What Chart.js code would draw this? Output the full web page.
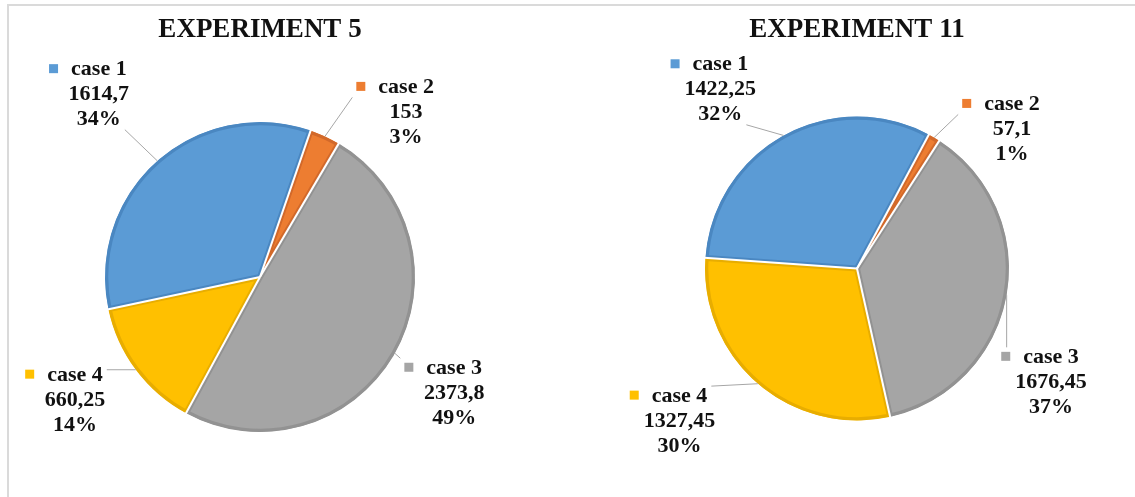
<!DOCTYPE html>
<html>
<head>
<meta charset="utf-8">
<script src="https://cdn.jsdelivr.net/npm/chart.js@4.4.1/dist/chart.umd.min.js"></script>
<style>
  html, body { margin: 0; padding: 0; background: #fff; }
  body { width: 1135px; height: 497px; overflow: hidden; position: relative; }
  .frame { position: absolute; left: 7px; top: 4px; right: 0; bottom: 0;
           border-top: 2px solid #dadada; border-left: 2px solid #dadada; }
  .pie { position: absolute; top: 0; }
  #c5  { left: 0; }
  #c11 { left: 560px; }
</style>
</head>
<body>
<div class="frame"></div>
<canvas id="c5" class="pie" width="560" height="497"></canvas>
<canvas id="c11" class="pie" width="575" height="497"></canvas>

<script>
// Pie charts — experiment 5 vs experiment 11

const CASES  = ['case 1', 'case 2', 'case 3', 'case 4'];
const EXP5   = [1614.7, 153, 2373.8, 660.25];
const EXP11  = [1422.25, 57.1, 1676.45, 1327.45];
const TITLES = ['EXPERIMENT 5', 'EXPERIMENT 11'];

const FILLS = ['#5b9bd5', '#ed7d31', '#a5a5a5', '#ffc000'];
const EDGES = ['#4a87c1', '#d2692a', '#929292', '#e8ad00'];

// callout placement: angle shift from slice middle (deg) and distance (x radius)
const SHIFT5  = [0, 16.8, 1.4, 3.1];
const DIST5   = [1.57, 1.42, 1.46, 1.434];
const SHIFT11 = [-8.5, 17.6, 20.3, 8.6];
const DIST11  = [1.48, 1.37, 1.48, 1.54];

const FONT = '"Liberation Serif", "Times New Roman", serif';
const LH = 25, SQ = 9, GAP = 13;

const fmt = v => String(v).replace('.', ',');

// thin white cuts between slices
const separators = {
  id: 'separators',
  afterDatasetsDraw(chart) {
    const ctx = chart.ctx;
    ctx.save();
    ctx.strokeStyle = '#fff';
    ctx.lineWidth = 2;
    chart.getDatasetMeta(0).data.forEach(arc => {
      const { x, y, startAngle, outerRadius } =
        arc.getProps(['x', 'y', 'startAngle', 'outerRadius'], true);
      ctx.beginPath();
      ctx.moveTo(x, y);
      ctx.lineTo(x + Math.cos(startAngle) * (outerRadius + 1), y + Math.sin(startAngle) * (outerRadius + 1));
      ctx.stroke();
    });
    ctx.restore();
  }
};

// Excel-style callouts: legend square + name, value, percentage, with leader line
const callouts = {
  id: 'callouts',
  afterDraw(chart, args, opts) {
    const ctx = chart.ctx;
    const vals = chart.data.datasets[0].data;
    const colors = chart.data.datasets[0].backgroundColor;
    const total = vals.reduce((a, b) => a + b, 0);
    const arcs = chart.getDatasetMeta(0).data;

    ctx.save();
    ctx.font = 'bold 22px ' + FONT;
    ctx.textBaseline = 'middle';

    arcs.forEach((arc, i) => {
      const { x, y, startAngle, endAngle, outerRadius } =
        arc.getProps(['x', 'y', 'startAngle', 'endAngle', 'outerRadius'], true);
      const mid = (startAngle + endAngle) / 2;
      const px = x + Math.cos(mid) * outerRadius;
      const py = y + Math.sin(mid) * outerRadius;

      const a  = mid + opts.shift[i] * Math.PI / 180;
      const d  = opts.dist[i] * outerRadius;
      const cx = x + Math.cos(a) * d;
      const cy = y + Math.sin(a) * d;

      // text lines are centred, the legend square hangs to the left of the first
      const lines = [chart.data.labels[i], fmt(vals[i]), Math.round(vals[i] / total * 100) + '%'];
      const boxes = lines.map((t, k) => {
        const w = ctx.measureText(t).width;
        return { t, l: cx - w / 2 - (k === 0 ? SQ + GAP : 0), r: cx + w / 2, y: cy + (k - 1) * LH };
      });

      // leader goes to the nearest text line
      let best = null;
      boxes.forEach(b => {
        const qx = Math.min(Math.max(px, b.l - 4), b.r + 4);
        const qy = Math.min(Math.max(py, b.y - 10), b.y + 10);
        const dd = Math.hypot(px - qx, py - qy);
        if (!best || dd < best.d) best = { x: qx, y: qy, d: dd };
      });
      ctx.strokeStyle = '#a6a6a6';
      ctx.lineWidth = 1;
      ctx.beginPath();
      ctx.moveTo(px, py);
      ctx.lineTo(best.x, best.y);
      ctx.stroke();

      ctx.fillStyle = colors[i];
      ctx.fillRect(boxes[0].l, boxes[0].y - SQ / 2 - 1, SQ, SQ);

      ctx.fillStyle = '#111';
      ctx.textAlign = 'center';
      boxes.forEach(b => ctx.fillText(b.t, cx, b.y));
    });
    ctx.restore();
  }
};

function makePie(id, title, values, rotation, radius, padding, shift, dist) {
  return new Chart(document.getElementById(id), {
    type: 'pie',
    data: {
      labels: CASES,
      datasets: [{
        data: values,
        backgroundColor: FILLS,
        borderColor: EDGES,
        borderWidth: 3,
        borderAlign: 'inner',
      }]
    },
    options: {
      responsive: false,
      animation: false,
      events: [],
      rotation: rotation,
      radius: radius,
      layout: { padding: padding },
      plugins: {
        legend: { display: false },
        tooltip: { enabled: false },
        title: {
          display: true,
          text: title,
          color: '#111',
          font: { family: FONT, size: 27, weight: 'bold' },
          padding: { top: 14, bottom: padding.titleGap },
        },
        callouts: { shift, dist },
      }
    },
    plugins: [separators, callouts],
  });
}

makePie('c5', TITLES[0], EXP5, 258, 155,
  { left: 105, right: 145, top: 0, bottom: 65, titleGap: 75.6 }, SHIFT5, DIST5);
makePie('c11', TITLES[1], EXP11, 274, 152,
  { left: 145, right: 126, top: 0, bottom: 76.5, titleGap: 70.1 }, SHIFT11, DIST11);
</script>
</body>
</html>
